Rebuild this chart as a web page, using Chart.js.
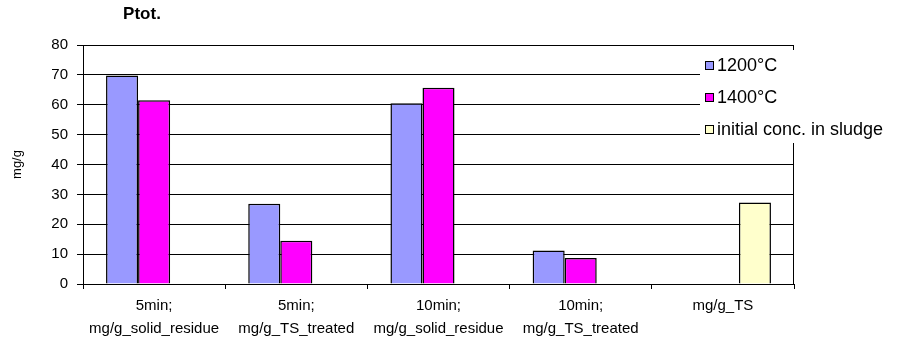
<!DOCTYPE html>
<html>
<head>
<meta charset="utf-8">
<script src="https://cdn.jsdelivr.net/npm/chart.js@4/dist/chart.umd.min.js"></script>
<style>
  html, body { margin: 0; padding: 0; background: #fff; }
  #wrap { width: 904px; height: 342px; }
</style>
</head>
<body>
<div id="wrap"><canvas id="c" width="904" height="342"></canvas></div>
<script>
// Categories (two-line x labels)
const categories = [
  ['5min;', 'mg/g_solid_residue'],
  ['5min;', 'mg/g_TS_treated'],
  ['10min;', 'mg/g_solid_residue'],
  ['10min;', 'mg/g_TS_treated'],
  ['mg/g_TS']
];
const seriesNames = ['1200°C', '1400°C', 'initial conc. in sludge'];
const values1200 = [69.8, 26.9, 60.5, 11.2, null];
const values1400 = [61.5, 14.5, 65.7, 8.7, null];
const valuesInitial = [null, null, null, null, 27.3];
const yTicks = { min: 0, max: 80, step: 10 };
const chartTitle = 'Ptot.';
const yTitle = 'mg/g';

const FONT = '"Liberation Sans", Arial, sans-serif';

// Plot frame (right edge), in-plot legend box and chart title
const extras = {
  id: 'extras',
  afterDraw(chart) {
    const { ctx, chartArea: a } = chart;
    ctx.save();
    ctx.strokeStyle = '#000';
    ctx.lineWidth = 1;
    const rx = Math.round(a.right) - 0.5;
    ctx.beginPath();
    ctx.moveTo(rx, a.top);
    ctx.lineTo(rx, a.bottom);
    ctx.stroke();

    // legend box overlapping the plot's top-right corner
    ctx.fillStyle = '#fff';
    ctx.fillRect(700, 50, 204, 93);
    ctx.font = '18px ' + FONT;
    ctx.textBaseline = 'middle';
    ctx.textAlign = 'left';
    chart.data.datasets.forEach((ds, i) => {
      const cy = 65 + i * 32;
      ctx.fillStyle = ds.backgroundColor;
      ctx.fillRect(705.5, cy - 3.5, 8, 8);
      ctx.strokeStyle = '#000';
      ctx.strokeRect(705.5, cy - 3.5, 8, 8);
      ctx.fillStyle = '#000';
      ctx.fillText(ds.label, 717, cy + 1);
    });

    // title
    ctx.font = 'bold 17px ' + FONT;
    ctx.textAlign = 'center';
    ctx.textBaseline = 'alphabetic';
    ctx.fillText(chartTitle, 142, 19);
    ctx.restore();
  }
};

new Chart(document.getElementById('c'), {
  type: 'bar',
  data: {
    labels: categories,
    datasets: [
      { label: seriesNames[0], data: values1200, backgroundColor: '#9999FF', borderColor: '#000', borderWidth: 1.5 },
      { label: seriesNames[1], data: values1400, backgroundColor: '#FF00FF', borderColor: '#000', borderWidth: 1.5 },
      { label: seriesNames[2], data: valuesInitial, backgroundColor: '#FFFFCC', borderColor: '#000', borderWidth: 1.5 }
    ]
  },
  options: {
    responsive: false,
    animation: false,
    devicePixelRatio: 1,
    layout: { padding: { left: 0, right: 110, top: 45, bottom: 0 } },
    datasets: { bar: { categoryPercentage: 0.676, barPercentage: 1 } },
    plugins: {
      legend: { display: false },
      title: { display: false },
      tooltip: { enabled: false }
    },
    scales: {
      x: {
        grid: { offset: true, drawOnChartArea: false, drawTicks: true, tickLength: 5, color: '#000' },
        border: { color: '#000' },
        ticks: { color: '#000', font: { family: FONT, size: 15, lineHeight: 1.5 }, padding: 6, maxRotation: 0, autoSkip: false },
        afterFit(s) { s.height = 58; }
      },
      y: {
        min: yTicks.min,
        max: yTicks.max,
        ticks: { stepSize: yTicks.step, color: '#000', font: { family: FONT, size: 15 }, padding: 9 },
        grid: { color: '#000', tickLength: 6 },
        border: { color: '#000' },
        title: { display: true, text: yTitle, color: '#000', font: { family: FONT, size: 13 }, padding: { top: 10, bottom: 0 } },
        afterFit(s) { s.width = 83; }
      }
    }
  },
  plugins: [extras]
});
</script>
</body>
</html>
